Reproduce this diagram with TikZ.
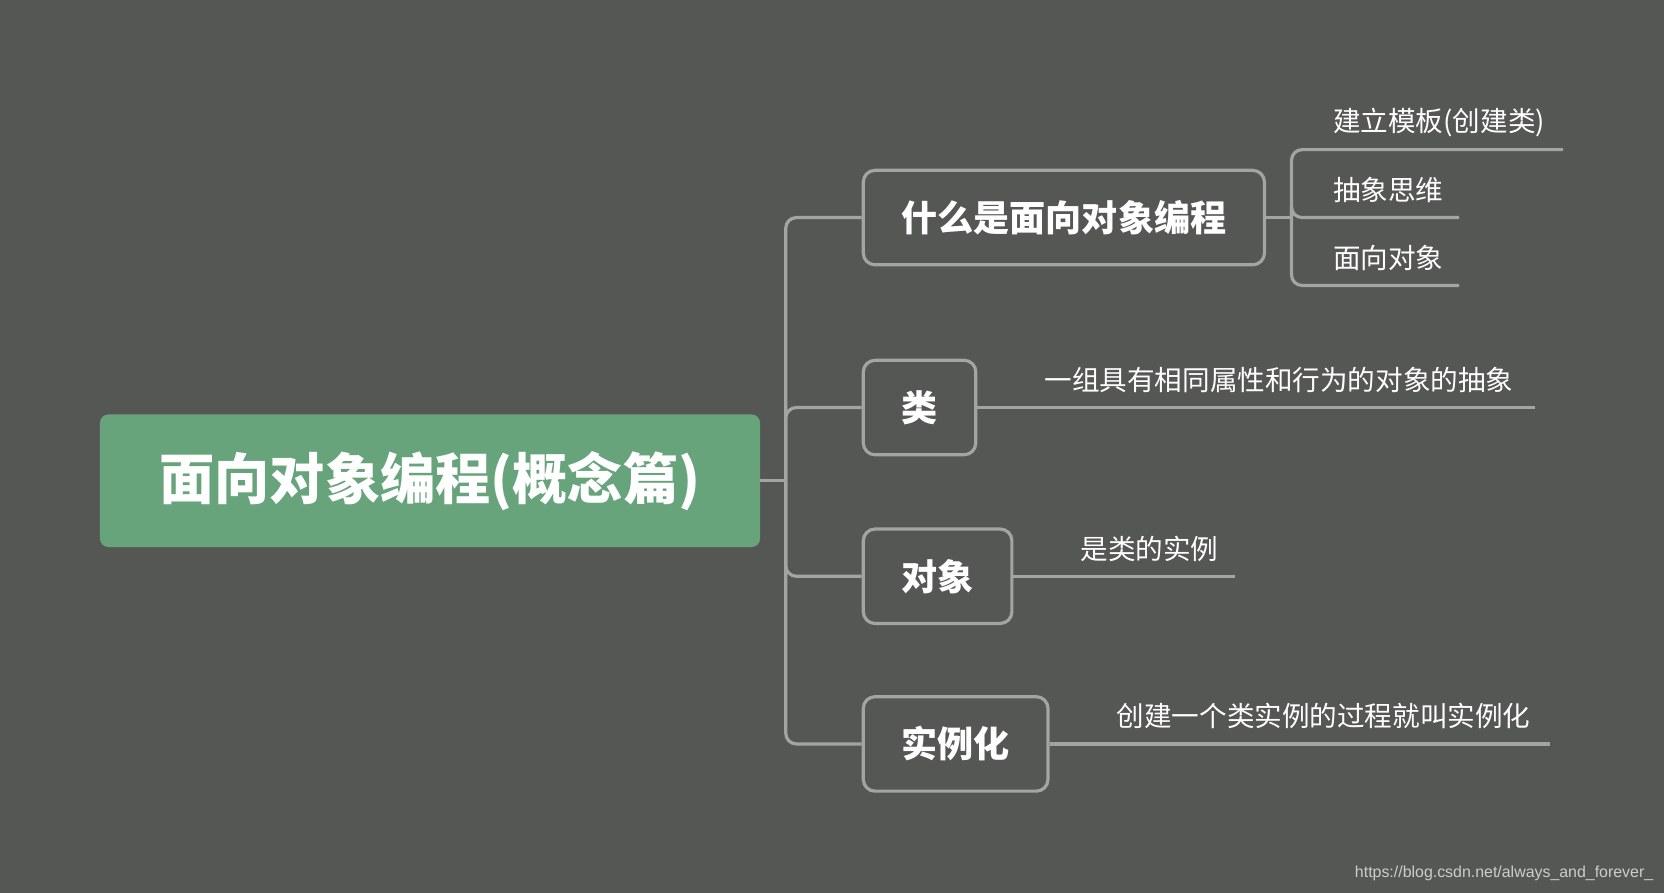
\documentclass[tikz,border=0pt]{standalone}
\usepackage{fontspec}
\setmainfont{Noto Sans CJK SC}
\newfontfamily\wmfont{Liberation Sans}
\usepackage{tikz}
\usetikzlibrary{positioning}
\definecolor{bgcol}{RGB}{85,87,84}
\definecolor{rootcol}{RGB}{103,164,123}
\definecolor{linecol}{RGB}{163,165,161}
\definecolor{wmcol}{RGB}{205,206,204}
\tikzset{
  root/.style={rectangle, rounded corners=8pt, fill=rootcol, text=white, minimum width=622pt, minimum height=125pt, inner sep=0pt, anchor=west, font=\fontsize{52}{60}\selectfont\bfseries},
  topic/.style={rectangle, rounded corners=11pt, draw=linecol, line width=3pt, fill=bgcol, text=white, minimum height=89pt, inner xsep=36pt, inner ysep=0pt, anchor=west, font=\fontsize{34}{40}\selectfont\bfseries},
  leaf/.style={text=white, inner sep=0pt, anchor=west, font=\fontsize{26}{30}\selectfont},
  branch/.style={draw=linecol, line width=3pt, rounded corners=10pt}
}
\newcommand{\mmtopic}[3] {\node at (#1) (#2) [topic] {#3};}
\newcommand{\mmleaf}[4] {\node at (#1) (#2) [leaf] {#3}; \coordinate (#2end) at (#4);}
\newcommand{\mmjoint}[1] {\coordinate (#1j) at ([xshift=24pt]#1.east); \draw [branch] (#1.east) -- (#1j);}
\newcommand{\mmbranch}[2] {\draw [branch] (#1j) |- (#2.west);}
\newcommand{\mmsubbranch}[2] {\draw [branch] (#1j) |- (#2end);}
\newcommand{\mmunderline}[2] {\draw [branch] (#1.east) -- (#2end);}

\begin{document}
\begin{tikzpicture}[x=1pt, y=-1pt]
\fill [bgcol] (0,0) rectangle (1568,841);
\useasboundingbox (0,0) rectangle (1568,841);

\node at (94,453) (oop) [root] {面向对象编程(概念篇)};

\mmtopic {812,205}{what}{什么是面向对象编程};
\mmtopic {812,384}{cls}{类};
\mmtopic {812,543}{obj}{对象};
\mmtopic {812,701}{inst}{实例化};

\mmleaf {1256,115}{tmpl}{建立模板(创建类)}{1473,141};
\mmleaf {1256,179}{abst}{抽象思维}{1375,205};
\mmleaf {1256,243}{face}{面向对象}{1375,269};
\mmleaf {984,358}{clsdef}{一组具有相同属性和行为的对象的抽象}{1446,384};
\mmleaf {1018,517}{objdef}{是类的实例}{1164,543};
\mmleaf {1052,675}{instdef}{创建一个类实例的过程就叫实例化}{1461,701};

\mmjoint{oop};
\mmbranch{oop}{what};
\mmbranch{oop}{cls};
\mmbranch{oop}{obj};
\mmbranch{oop}{inst};

\mmjoint{what};
\mmsubbranch{what}{tmpl};
\mmsubbranch{what}{abst};
\mmsubbranch{what}{face};
\mmunderline{cls}{clsdef};
\mmunderline{obj}{objdef};
\mmunderline{inst}{instdef};

% watermark
\node at (1558,823) (mark) [anchor=east, text=wmcol, inner sep=0pt, font=\wmfont\fontsize{15}{17}\selectfont] {https://blog.csdn.net/always\_and\_forever\_};
\end{tikzpicture}
\end{document}
